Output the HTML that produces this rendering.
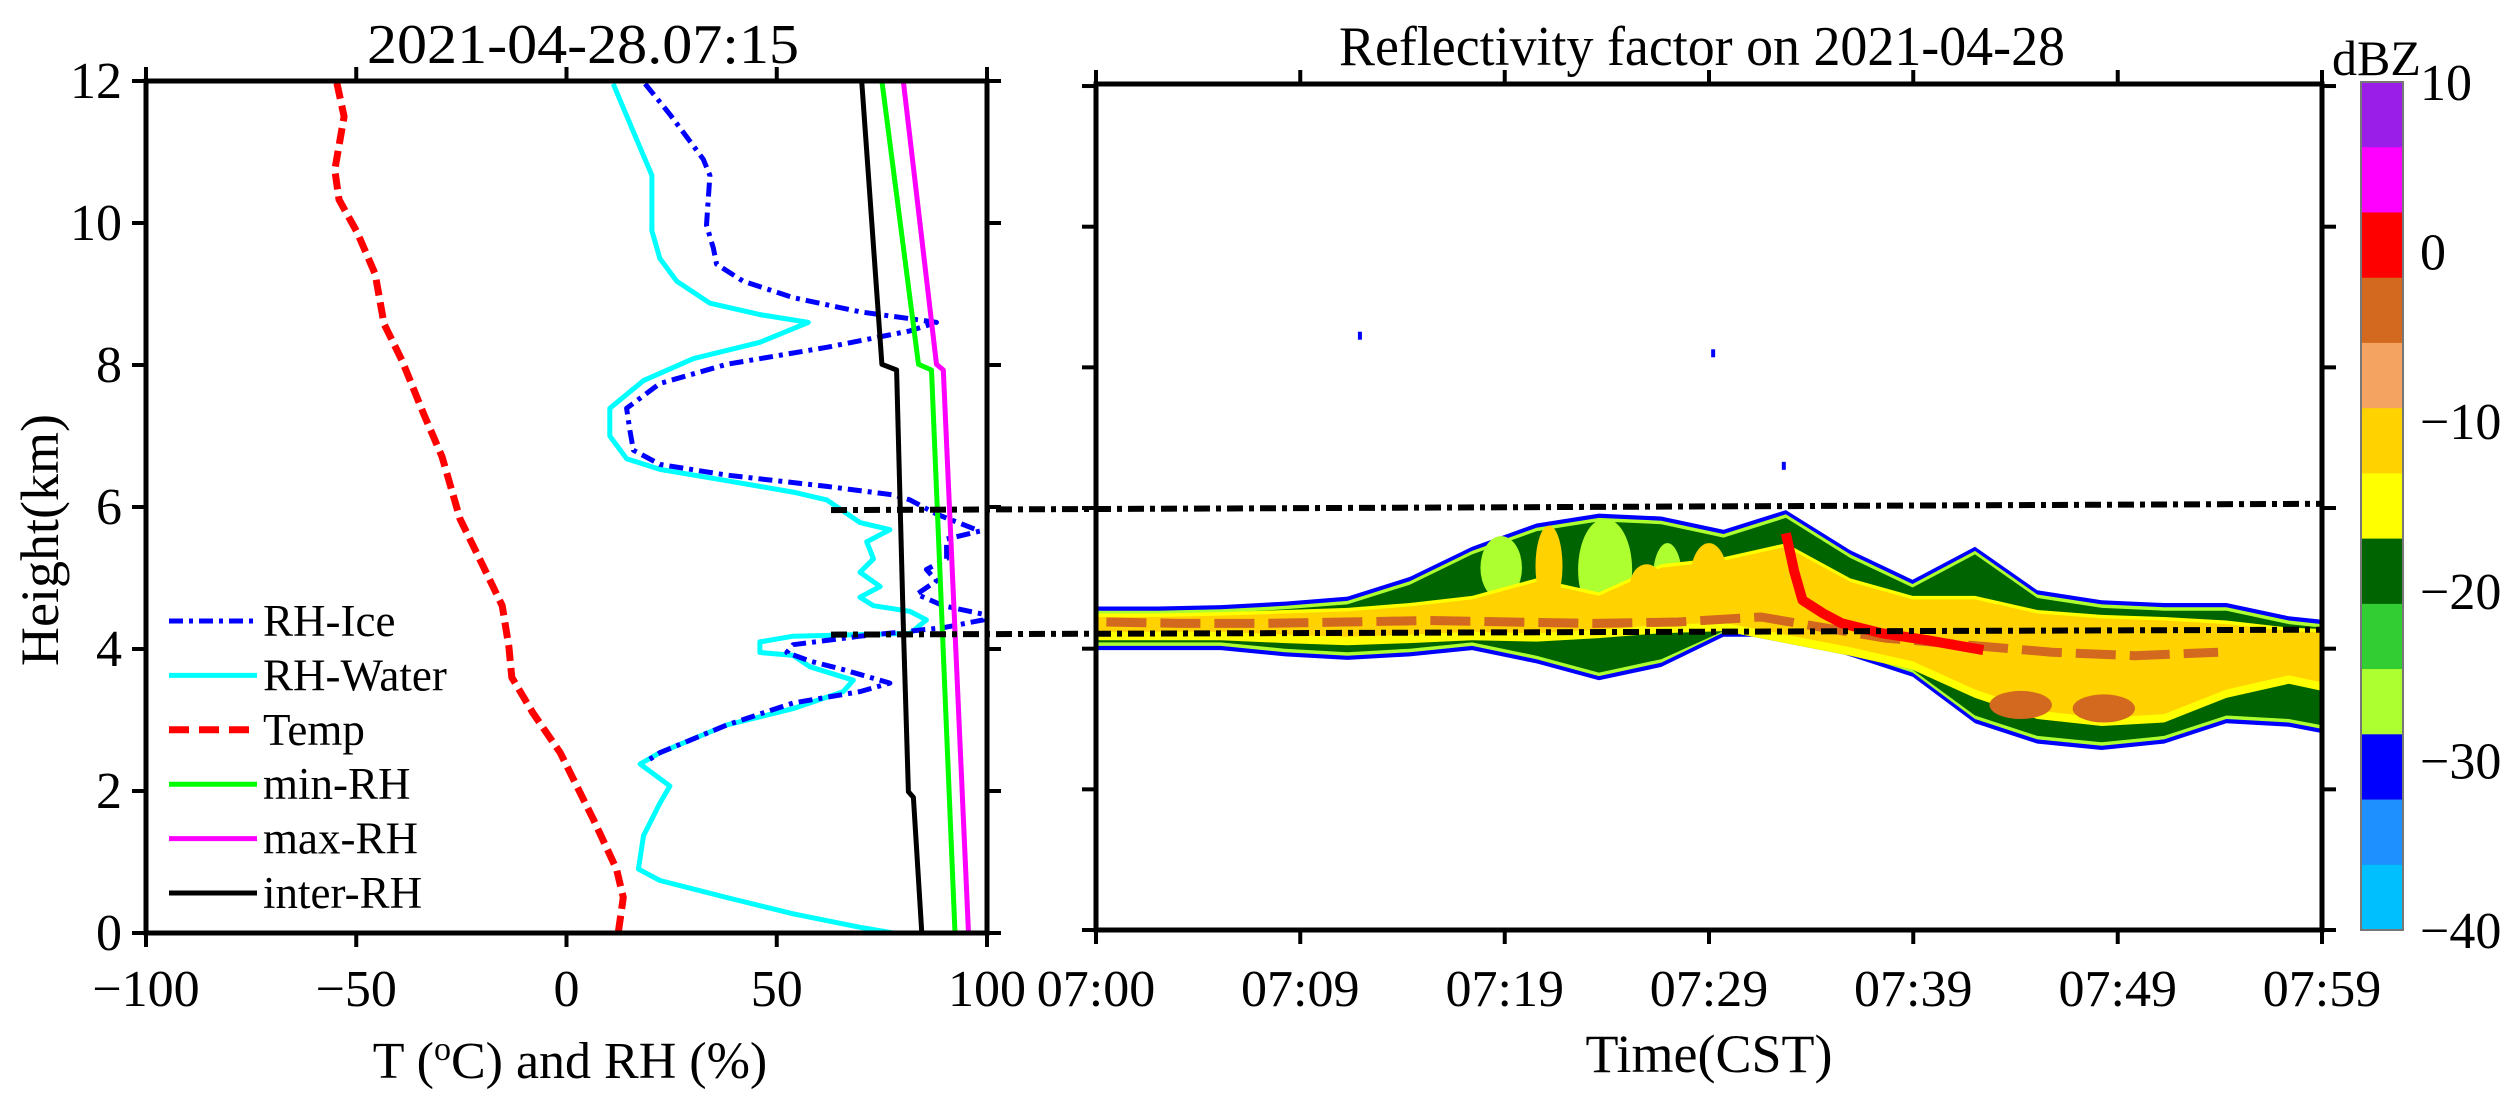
<!DOCTYPE html>
<html><head><meta charset="utf-8"><style>
html,body{margin:0;padding:0;background:#fff;}
svg{display:block;font-family:"Liberation Serif","DejaVu Serif",serif;}
</style></head><body>
<svg id="fig" width="2514" height="1107" viewBox="0 0 2514 1107" xmlns="http://www.w3.org/2000/svg">
<g id="heat"></g>
<g id="left"></g>
<g id="right"></g>
<g id="cbar"></g>
</svg>
<script>
// ---- left panel data (x: T or RH value, y: height km) ----
const iceX = [18.7,24.6,32.5,34.1,33.3,34.9,35.7,42.0,53.9,69.8,88.0,81.7,61.9,38.1,22.2,14.3,15.1,15.9,22.2,38.1,61.9,77.7,81.7,88.0,98.3,90.4,90.4,85.6,88.0,83.3,89.6,99.1,99.1,89.6,69.8,53.9,52.4,57.9,65.8,76.9,69.8,53.9,38.1,22.2,19.1];
const iceH = [11.96,11.53,10.90,10.67,9.97,9.65,9.42,9.18,8.95,8.75,8.60,8.48,8.25,8.01,7.74,7.39,7.07,6.80,6.60,6.45,6.29,6.17,6.10,5.90,5.66,5.55,5.27,5.12,4.96,4.77,4.61,4.49,4.41,4.30,4.18,4.06,3.95,3.83,3.71,3.52,3.40,3.24,2.93,2.54,2.42];
const waterX = [11.1,17.5,20.3,20.3,22.2,26.2,34.1,46.0,57.5,46.0,30.2,18.3,10.3,10.3,14.3,22.2,38.1,53.9,61.9,69.8,76.9,71.4,73.0,69.8,74.6,69.8,73.0,81.7,85.6,81.7,53.9,46.0,46.0,53.9,57.9,68.2,65.8,53.9,38.1,22.2,17.5,24.6,22.2,18.3,17.1,22.2,38.1,53.9,69.8,77.7];
const waterH = [11.96,11.06,10.67,9.89,9.50,9.18,8.87,8.71,8.60,8.32,8.09,7.78,7.39,7.00,6.68,6.53,6.37,6.21,6.10,5.78,5.68,5.51,5.27,5.08,4.88,4.73,4.61,4.53,4.41,4.22,4.18,4.10,3.95,3.91,3.75,3.56,3.40,3.16,2.93,2.54,2.38,2.07,1.83,1.37,0.90,0.74,0.50,0.27,0.08,0.0];
const tempX = [-54.6,-52.9,-55.1,-54.1,-49.8,-45.5,-43.4,-39.1,-33.9,-29.6,-25.3,-20.1,-15.3,-13.7,-13,-8,-1.5,6.4,11.9,13.5,12.3];
const tempH = [11.97,11.5,10.75,10.33,9.87,9.28,8.58,8.06,7.30,6.71,5.83,5.20,4.61,4.03,3.6,3.1,2.54,1.6,0.9,0.5,0.0];
const interX = [70.2,75.0,78.5,80.1,81.3,82.5,84.5];
const interH = [12,8.01,7.93,4.34,1.99,1.91,0];
const minX = [75.0,83.7,86.8,92.4];
const minH = [12,8.01,7.93,0];
const maxX = [80.1,88.0,89.6,95.6];
const maxH = [12,8.01,7.93,0];
const leftXTicks = [-100,-50,0,50,100];
const leftXLabels = ["\u2212100","\u221250","0","50","100"];
const yTicks = [0,2,4,6,8,10,12];
const legendNames = ["RH-Ice","RH-Water","Temp","min-RH","max-RH","inter-RH"];
// ---- right panel data (time in minutes after 07:00, height km) ----
const timeTicks = [0,9.83,19.67,29.5,39.33,49.17,59];
const timeLabels = ["07:00","07:09","07:19","07:29","07:39","07:49","07:59"];
const cloudT = [0,3.0,6.0,9.1,12.1,15.1,18.1,21.2,24.2,27.2,30.2,33.2,36.3,39.3,42.3,45.3,48.4,51.4,54.4,57.4,59];
const outerTop = [4.60,4.60,4.62,4.67,4.74,5.02,5.45,5.78,5.92,5.88,5.69,5.97,5.40,4.98,5.45,4.83,4.69,4.65,4.65,4.46,4.41];
const outerBase = [3.98,3.98,3.98,3.89,3.84,3.89,3.98,3.79,3.55,3.74,4.17,4.17,3.89,3.60,2.94,2.65,2.56,2.65,2.94,2.89,2.80];
const coreTop = [4.50,4.50,4.52,4.55,4.58,4.65,4.75,5.0,4.8,5.2,5.3,5.5,5.0,4.75,4.75,4.55,4.48,4.45,4.40,4.30,4.28];
const coreBase = [4.12,4.12,4.12,4.08,4.05,4.08,4.12,4.10,4.15,4.22,4.25,4.08,3.9,3.7,3.3,3.0,2.9,2.95,3.3,3.5,3.4];
const brownT = [0.5,4,8,12,16,20,24,28,32,35,38,42,46,50,54];
const brownH = [4.38,4.36,4.36,4.38,4.40,4.38,4.36,4.38,4.45,4.30,4.15,4.05,3.95,3.90,3.95];
const redT = [33.2,33.6,34.0,35.0,35.9,37.8,40,42.7];
const redH = [5.64,5.1,4.69,4.5,4.36,4.22,4.12,3.98];
const towerT = [21.8,26.5,29.5,44.5,48.5];
const towerBot = [4.6,4.6,4.5,3.0,2.95];
const towerTop = [5.75,5.2,5.5,3.4,3.35];
const towerW = [1.3,1.6,1.8,3.0,3.0];
const greenT = [19.5,24.5,27.5];
const greenBot = [4.7,4.4,4.5];
const greenTop = [5.6,5.85,5.5];
const greenW = [2.0,2.6,1.4];
const speckT = [12.7,29.7,33.1];
const speckH = [8.45,8.2,6.6];
const layerTopKm = [5.97,6.06];
const layerBaseKm = [4.20,4.27];
// ---- colorbar ----
const cbColors = ["#9b1ee8","#ff00ff","#ff0000","#d2691e","#f4a460","#ffd200","#ffff00","#006400","#32cd32","#adff2f","#0000ff","#1e90ff","#00bfff"];
const cbTicks = [10,0,-10,-20,-30,-40];
const cbMin = -40, cbMax = 10;

const NS = "http://www.w3.org/2000/svg";
function mk(tag, attrs, parent){ const e=document.createElementNS(NS,tag); for(const k in attrs) e.setAttribute(k,attrs[k]); parent.appendChild(e); return e; }
const xL = v => 146 + (v+100)*4.205;
const yL = h => 933 - h*71;
const xR = m => 1096 + m/59*1226;
const yR = h => 930 - h*70.33;
const yC = v => 82 + (cbMax - v)/(cbMax-cbMin)*848;

const L = document.getElementById('left');
const R = document.getElementById('right');
const H = document.getElementById('heat');
const C = document.getElementById('cbar');

function line(xs, hs, color, w, dash, name){
  const pts = xs.map((v,i)=> xL(v).toFixed(1)+','+yL(hs[i]).toFixed(1)).join(' ');
  const p = mk('polyline',{points:pts,fill:'none',stroke:color,'stroke-width':w,'stroke-linejoin':'round'},L);
  if(dash) p.setAttribute('stroke-dasharray',dash);
  
  
}
line(tempX,tempH,'#ff0000',7,'16 7','temp-line');
line(waterX,waterH,'#00ffff',5,null,'rh-water-line');
line(iceX,iceH,'#0000ff',5,'14 6 4 6','rh-ice-line');
line(interX,interH,'#000000',5,null,'inter-rh-line');
line(minX,minH,'#00ff00',5,null,'min-rh-line');
line(maxX,maxH,'#ff00ff',5,null,'max-rh-line');

// left axes
const lb = mk('rect',{x:146,y:81,width:841,height:852,fill:'none',stroke:'#000','stroke-width':5},L);


leftXTicks.forEach((v,i)=>{
  mk('line',{x1:xL(v),x2:xL(v),y1:933,y2:947,stroke:'#000','stroke-width':4},L);
  mk('line',{x1:xL(v),x2:xL(v),y1:81,y2:67,stroke:'#000','stroke-width':4},L);
  const t = mk('text',{x:xL(v),y:1006,'font-size':52,'text-anchor':'middle'},L);
  t.textContent = leftXLabels[i];
  
  
});
yTicks.forEach(h=>{
  mk('line',{x1:132,x2:146,y1:yL(h),y2:yL(h),stroke:'#000','stroke-width':4},L);
  mk('line',{x1:987,x2:1001,y1:yL(h),y2:yL(h),stroke:'#000','stroke-width':4},L);
  const t = mk('text',{x:122,y:yL(h)+17,'font-size':52,'text-anchor':'end'},L);
  t.textContent = String(h);
  
  
});
// legend
const legColors = ['#0000ff','#00ffff','#ff0000','#00ff00','#ff00ff','#000000'];
const legDash = ['14 6 4 6',null,'20 10',null,null,null];
legendNames.forEach((n,i)=>{
  const y = 621 + i*54.4;
  const ln = mk('line',{x1:169,x2:257,y1:y,y2:y,stroke:legColors[i],'stroke-width':i==2?7:5},L);
  if(legDash[i]) ln.setAttribute('stroke-dasharray',legDash[i]);
  
  
  const t = mk('text',{x:263,y:y+15,'font-size':45},L);
  t.textContent = n;
  
  
});
const lt = mk('text',{x:367,y:63,'font-size':56,textLength:432,lengthAdjust:'spacingAndGlyphs'},L);
lt.textContent = '2021-04-28.07:15';


const yl = mk('text',{x:0,y:0,'font-size':54,'text-anchor':'middle',transform:'translate(58,540) rotate(-90)'},L);
yl.textContent = 'Height(km)';


const xl = mk('text',{x:570,y:1078,'font-size':52,'text-anchor':'middle'},L);
xl.innerHTML = 'T (<tspan dy="-18" font-size="34">o</tspan><tspan dy="18">C) and RH (%)</tspan>';



// heatmap
function band(top, base, color, name){
  let pts = cloudT.map((t,i)=> xR(t).toFixed(1)+','+yR(top[i]).toFixed(1));
  for(let i=cloudT.length-1;i>=0;i--) pts.push(xR(cloudT[i]).toFixed(1)+','+yR(base[i]).toFixed(1));
  const p = mk('polygon',{points:pts.join(' '),fill:color},H);
  
  
}
band(outerTop, outerBase, '#0000ff','echo-blue');
band(outerTop.map(v=>v-0.06), outerBase.map(v=>v+0.06), '#adff2f','echo-yellowgreen');
band(outerTop.map(v=>v-0.11), outerBase.map((v,i)=>Math.min(v+0.11,coreBase[i])), '#006400','echo-darkgreen');
function blob(ts,bots,tops,ws,color,name){
  ts.forEach((t,i)=>{
    const cy = (yR(tops[i])+yR(bots[i]))/2;
    const e = mk('ellipse',{cx:xR(t),cy:cy,rx:ws[i]/59*1226/2,ry:(yR(bots[i])-yR(tops[i]))/2,fill:color},H);
    
    
  });
}
blob(greenT,greenBot,greenTop,greenW,'#adff2f','echo-green-patch');
band(coreTop, coreBase, '#ffff00','echo-yellow');
band(coreTop.map(v=>v-0.05), coreBase.map((v,i)=>Math.min(v+0.12,coreTop[i]-0.1)), '#ffd200','echo-gold');
towerT.forEach((t,i)=>{
  const cx = xR(t), cy = (yR(towerTop[i])+yR(towerBot[i]))/2;
  const e = mk('ellipse',{cx:cx,cy:cy,rx:towerW[i]/59*1226/2,ry:(yR(towerBot[i])-yR(towerTop[i]))/2,fill:i<3?'#ffd200':'#d2691e'},H);
  
  
});
const bp = mk('polyline',{points:brownT.map((t,i)=>xR(t).toFixed(1)+','+yR(brownH[i]).toFixed(1)).join(' '),fill:'none',stroke:'#d2691e','stroke-width':9,'stroke-dasharray':'40 14'},H);


const rp = mk('polyline',{points:redT.map((t,i)=>xR(t).toFixed(1)+','+yR(redH[i]).toFixed(1)).join(' '),fill:'none',stroke:'#ff0000','stroke-width':10,'stroke-linejoin':'round'},H);


speckT.forEach((t,i)=>{
  const r = mk('rect',{x:xR(t)-2,y:yR(speckH[i])-4,width:4,height:8,fill:'#0000ff'},H);
  
  
});

// dashed layer lines across both panels
[[layerTopKm,'cloud-top-line'],[layerBaseKm,'cloud-base-line']].forEach(([k,n])=>{
  const y1 = yR(k[0]) , y2 = yR(k[1]);
  const d = mk('line',{x1:831,x2:2322,y1:y1,y2:y2,stroke:'#000','stroke-width':6,'stroke-dasharray':'16 6 5 6'},R);
  
  
});

// right axes
const rb = mk('rect',{x:1096,y:84,width:1226,height:846,fill:'none',stroke:'#000','stroke-width':5},R);


timeTicks.forEach((m,i)=>{
  mk('line',{x1:xR(m),x2:xR(m),y1:930,y2:944,stroke:'#000','stroke-width':4},R);
  mk('line',{x1:xR(m),x2:xR(m),y1:84,y2:70,stroke:'#000','stroke-width':4},R);
  const t = mk('text',{x:xR(m),y:1006,'font-size':52,'text-anchor':'middle'},R);
  t.textContent = timeLabels[i];
  
  
});
yTicks.forEach(h=>{
  mk('line',{x1:1082,x2:1096,y1:yR(h),y2:yR(h),stroke:'#000','stroke-width':4},R);
  mk('line',{x1:2322,x2:2336,y1:yR(h),y2:yR(h),stroke:'#000','stroke-width':4},R);
});
const rt = mk('text',{x:1339,y:65,'font-size':56,textLength:726,lengthAdjust:'spacingAndGlyphs'},R);
rt.textContent = 'Reflectivity factor on 2021-04-28';


const rx = mk('text',{x:1709,y:1072,'font-size':54,'text-anchor':'middle'},R);
rx.textContent = 'Time(CST)';



// colorbar
const bh = 848/cbColors.length;
cbColors.forEach((c,i)=>{
  const r = mk('rect',{x:2361,y:82+i*bh,width:42,height:bh+0.5,fill:c},C);
  
  
});
mk('rect',{x:2361,y:82,width:42,height:848,fill:'none',stroke:'#777','stroke-width':2},C);
cbTicks.forEach(v=>{
  const t = mk('text',{x:2420,y:yC(v)+18,'font-size':52},C);
  t.textContent = v<0 ? '\u2212'+Math.abs(v) : String(v);
  
  
});
const du = mk('text',{x:2332,y:75,'font-size':50},C);
du.textContent = 'dBZ';


</script>
</body></html>
